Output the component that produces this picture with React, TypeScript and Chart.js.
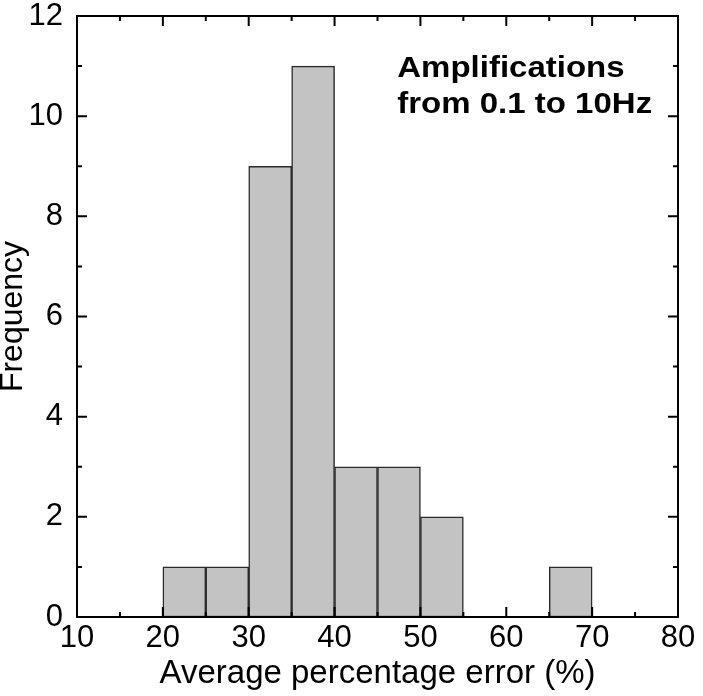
import React, { useEffect, useRef } from "react";
import { Chart, registerables } from "chart.js";

Chart.register(...registerables);

// Histogram bins (centers of 5%-wide bins) and counts
const binCenters = [22.5, 27.5, 32.5, 37.5, 42.5, 47.5, 52.5, 57.5, 62.5, 67.5];
const frequencies = [1, 1, 9, 11, 3, 3, 2, 0, 0, 1];
const xMajorTicks = [10, 20, 30, 40, 50, 60, 70, 80];
const xMinorTicks = [15, 25, 35, 45, 55, 65, 75];
const yMajorTicks = [0, 2, 4, 6, 8, 10, 12];
const yMinorTicks = [1, 3, 5, 7, 9, 11];
const annotationLines = ["Amplifications", "from 0.1 to 10Hz"];

const FONT = "'Liberation Sans', Arial, Helvetica, sans-serif";

const framePlugin = {
  id: "frame",
  afterDatasetsDraw(chart: any) {
    const { ctx, chartArea, scales } = chart;
    const { left, right, top, bottom } = chartArea;
    const xs = scales.x;
    const ys = scales.y;
    ctx.save();
    ctx.strokeStyle = "#000";
    ctx.lineWidth = 2;
    ctx.beginPath();
    const major = 10;
    const minor = 5;
    for (const v of xMajorTicks) {
      const p = xs.getPixelForValue(v);
      ctx.moveTo(p, bottom);
      ctx.lineTo(p, bottom - major);
      ctx.moveTo(p, top);
      ctx.lineTo(p, top + major);
    }
    for (const v of xMinorTicks) {
      const p = xs.getPixelForValue(v);
      ctx.moveTo(p, bottom);
      ctx.lineTo(p, bottom - minor);
      ctx.moveTo(p, top);
      ctx.lineTo(p, top + minor);
    }
    for (const v of yMajorTicks) {
      const p = ys.getPixelForValue(v);
      ctx.moveTo(left, p);
      ctx.lineTo(left + major, p);
      ctx.moveTo(right, p);
      ctx.lineTo(right - major, p);
    }
    for (const v of yMinorTicks) {
      const p = ys.getPixelForValue(v);
      ctx.moveTo(left, p);
      ctx.lineTo(left + minor, p);
      ctx.moveTo(right, p);
      ctx.lineTo(right - minor, p);
    }
    ctx.stroke();
    ctx.lineWidth = 2;
    ctx.strokeRect(left, top, right - left, bottom - top);

    // annotation (slightly wide lettering, as in the original)
    ctx.fillStyle = "#000";
    ctx.font = `bold 30px ${FONT}`;
    ctx.textAlign = "left";
    ctx.textBaseline = "alphabetic";
    const ax = xs.getPixelForValue(47.3);
    const sx = 1.1;
    ctx.translate(ax, 0);
    ctx.scale(sx, 1);
    ctx.fillText(annotationLines[0], 0, top + 61);
    ctx.fillText(annotationLines[1], 0, top + 97);
    ctx.restore();
  },
};

export default function App() {
  const canvasRef = useRef<HTMLCanvasElement | null>(null);

  useEffect(() => {
    const canvas = canvasRef.current;
    if (!canvas) return;
    const chart = new Chart(canvas, {
      type: "bar",
      data: {
        datasets: [
          {
            data: binCenters.map((x, i) => ({ x, y: frequencies[i] })),
            backgroundColor: "#c3c3c3",
            borderColor: "#2a2a2a",
            borderWidth: 1.5,
            borderSkipped: false,
            barPercentage: 1,
            categoryPercentage: 1,
          },
        ],
      },
      options: {
        animation: false,
        responsive: false,
        maintainAspectRatio: false,
        layout: { padding: { left: 0, right: 25, top: 16, bottom: 0 } },
        plugins: {
          legend: { display: false },
          tooltip: { enabled: false },
        },
        scales: {
          x: {
            type: "linear",
            min: 10,
            max: 80,
            offset: false,
            grid: { display: false, drawTicks: false },
            border: { display: false },
            ticks: {
              stepSize: 10,
              color: "#000",
              padding: 6,
              maxRotation: 0,
              font: { family: FONT, size: 31, lineHeight: 1 },
            },
            title: {
              display: true,
              text: "Average percentage error (%)",
              color: "#000",
              font: { family: FONT, size: 33, lineHeight: 1.1 },
              padding: { top: 0, bottom: 4 },
            },
            afterFit(scale: any) {
              scale.height = 79;
              scale.paddingLeft = 0;
              scale.paddingRight = 0;
            },
          },
          y: {
            type: "linear",
            min: 0,
            max: 12,
            grid: { display: false, drawTicks: false },
            border: { display: false },
            ticks: {
              stepSize: 2,
              color: "#000",
              padding: 14,
              font: { family: FONT, size: 31, lineHeight: 1 },
            },
            title: {
              display: true,
              text: "Frequency",
              color: "#000",
              font: { family: FONT, size: 32, lineHeight: 0.85 },
              padding: 0,
            },
            afterFit(scale: any) {
              scale.width = 77;
              scale.paddingTop = 0;
              scale.paddingBottom = 0;
            },
          },
        },
      },
      plugins: [framePlugin],
    });
    return () => chart.destroy();
  }, []);

  return (
    <div style={{ position: "absolute", left: 0, top: 0, width: 703, height: 696, background: "#fff" }}>
      <canvas ref={canvasRef} width={703} height={696} style={{ width: 703, height: 696, display: "block" }} />
    </div>
  );
}
